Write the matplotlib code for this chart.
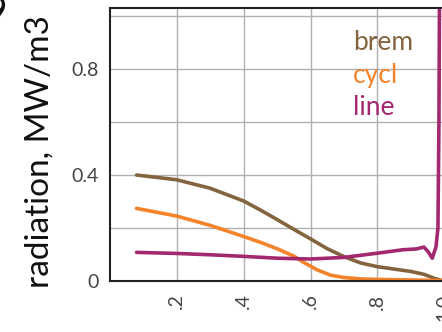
import numpy as np
import matplotlib.pyplot as plt

plt.rcParams['font.family'] = ['Lato', 'DejaVu Sans']

#~~~~~~Data~~~~~~
brem_x = [0.08, 0.2, 0.3, 0.4, 0.45, 0.5, 0.55, 0.6, 0.65, 0.7, 0.75, 0.8, 0.85, 0.9, 0.94, 0.97, 0.99]
brem_y = [0.400, 0.382, 0.350, 0.302, 0.268, 0.232, 0.195, 0.159, 0.122, 0.092, 0.068, 0.054, 0.045, 0.036, 0.025, 0.010, 0.003]

cycl_x = [0.08, 0.2, 0.3, 0.4, 0.45, 0.5, 0.55, 0.58, 0.62, 0.66, 0.7, 0.75, 0.8, 0.9, 0.99]
cycl_y = [0.274, 0.245, 0.210, 0.168, 0.146, 0.122, 0.094, 0.070, 0.042, 0.022, 0.013, 0.008, 0.006, 0.004, 0.002]

line_x = [0.08, 0.2, 0.3, 0.4, 0.5, 0.6, 0.7, 0.8, 0.877, 0.917, 0.939, 0.952, 0.964, 0.975, 0.981, 0.984, 0.986]
line_y = [0.108, 0.104, 0.099, 0.093, 0.086, 0.083, 0.089, 0.105, 0.118, 0.121, 0.128, 0.110, 0.086, 0.128, 0.20, 0.6, 1.2]

series = [('brem', brem_x, brem_y, '#83643f'),
          ('cycl', cycl_x, cycl_y, '#f4832a'),
          ('line', line_x, line_y, '#a3296f')]

yticks = [0, 0.4, 0.8]
yticklabels = ['0', '0.4', '0.8']
xticks = [0.2, 0.4, 0.6, 0.8, 1.0]
xticklabels = ['.2', '.4', '.6', '.8', '1.0']

#~~~~~~Figure~~~~~~
W, H = 442, 332
fig = plt.figure(figsize=(W / 100, H / 100), dpi=100)
# axes run off the right edge of the picture
left, right, bottom, top = 109.8, 444.3, 281, 8
ax = fig.add_axes([left / W, 1 - bottom / H, (right - left) / W, (bottom - top) / H])
ax.set_xlim(0, 1.0)
ax.set_ylim(0, (281 - 8) / 265 * 1.0)

for x in np.arange(0.2, 1.01, 0.2):
    ax.axvline(x, color='#b0b0b0', lw=1.0, zorder=0)
for y in np.arange(0.2, 1.01, 0.2):
    ax.axhline(y, color='#b0b0b0', lw=1.0, zorder=0)

for name, xs, ys, c in series:
    ax.plot(xs, ys, color=c, lw=2.6, solid_joinstyle='round', solid_capstyle='round')

for sp in ax.spines.values():
    sp.set_color('#222222')
    sp.set_linewidth(1.5)

ax.set_yticks(yticks)
ax.set_yticklabels(yticklabels)
ax.set_xticks(xticks)
ax.set_xticklabels(xticklabels, rotation=90)
ax.tick_params(length=0, labelsize=14, labelcolor='#444444')
ax.tick_params(axis='y', pad=8)
ax.tick_params(axis='x', pad=9)
ax.set_ylabel('radiation, MW/m3', fontsize=24, color='#111111')
ax.yaxis.set_label_coords(-0.165, 0.475)

# legend as coloured words
for i, (name, xs, ys, c) in enumerate(series):
    fig.text(353 / W, 1 - (50 + 32.5 * i) / H, name, color=c, fontsize=19,
             ha='left', va='baseline')

# cut-off panel label
fig.text(-0.035, 1.015, '9', fontsize=28, ha='left', va='top', color='#111111')

fig.savefig('out.png', dpi=100)
